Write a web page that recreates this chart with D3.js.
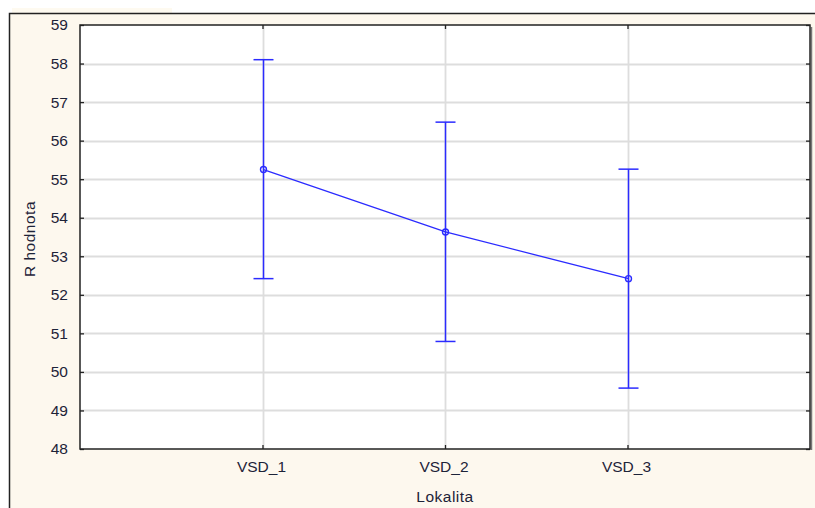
<!DOCTYPE html>
<html>
<head>
<meta charset="utf-8">
<script src="https://cdn.jsdelivr.net/npm/d3@7"></script>
<style>
  html, body { margin: 0; padding: 0; background: #ffffff; }
  svg { display: block; }
  text { font-family: Arial, "Liberation Sans", sans-serif; }
</style>
</head>
<body>
<svg id="chart" width="815" height="508"></svg>
<script>
// Mean R values per site with their interval bounds
const categories = ["VSD_1", "VSD_2", "VSD_3"];
const means = [55.25, 53.63, 52.42];
const upper = [58.10, 56.48, 55.26];
const lower = [52.42, 50.79, 49.58];
const yTicks = [48, 49, 50, 51, 52, 53, 54, 55, 56, 57, 58, 59];
const xTitle = "Lokalita";
const yTitle = "R hodnota";

const svg = d3.select("#chart");
const W = 815, H = 508;
const plot = { left: 80, top: 25, right: 810, bottom: 449 };
const fontSize = 15.5;
const textCol = "#1d2338";

// Outer panel
svg.append("rect").attr("x", 12).attr("y", 8).attr("width", 160).attr("height", 6).attr("fill", "#fefaf0");
svg.append("rect").attr("x", 9.5).attr("y", 13.5).attr("width", W).attr("height", H)
  .attr("fill", "#fdf8ee").attr("stroke", "#222").attr("stroke-width", 1.5);

const x = d3.scaleLinear().domain([0, categories.length + 1]).range([plot.left, plot.right]);
const y = d3.scaleLinear().domain([48, 59]).range([plot.bottom, plot.top]);
const cx = i => Math.round(x(i + 1)) + 0.5;

// Plot area
svg.append("rect").attr("x", plot.left).attr("y", plot.top)
  .attr("width", plot.right - plot.left).attr("height", plot.bottom - plot.top)
  .attr("fill", "#ffffff");

// Grid
const grid = svg.append("g");
grid.selectAll("line.h").data(yTicks.slice(1, -1)).join("line")
  .attr("x1", plot.left).attr("x2", plot.right)
  .attr("y1", d => Math.round(y(d)) + 0.5).attr("y2", d => Math.round(y(d)) + 0.5)
  .attr("stroke", "#dddddd").attr("stroke-width", 1.8);
grid.selectAll("line.v").data(categories).join("line")
  .attr("x1", (d, i) => cx(i)).attr("x2", (d, i) => cx(i))
  .attr("y1", plot.top).attr("y2", plot.bottom)
  .attr("stroke", "#dddddd").attr("stroke-width", 1.8);

// Axes
const yAxisL = d3.axisLeft(y).tickValues(yTicks).tickSize(-4).tickPadding(12).tickFormat(d3.format("d"));
const gyl = svg.append("g").attr("transform", `translate(${plot.left},0)`).call(yAxisL);
const yAxisR = d3.axisRight(y).tickValues(yTicks).tickSize(-4).tickFormat("");
const gyr = svg.append("g").attr("transform", `translate(${plot.right},0)`).call(yAxisR);
const xAxisB = d3.axisBottom(x).tickValues(categories.map((d, i) => i + 1))
  .tickFormat((d) => categories[d - 1]).tickSize(-4).tickPadding(12);
const gxb = svg.append("g").attr("transform", `translate(0,${plot.bottom})`).call(xAxisB);
const xAxisT = d3.axisTop(x).tickValues(categories.map((d, i) => i + 1)).tickSize(-4).tickFormat("");
const gxt = svg.append("g").attr("transform", `translate(0,${plot.top})`).call(xAxisT);

[gyl, gyr, gxb, gxt].forEach(g => {
  g.select(".domain").remove();
  g.selectAll(".tick line").attr("stroke", "#222").attr("stroke-width", 1.3);
  g.selectAll(".tick text").attr("fill", textCol).attr("font-size", fontSize)
    .attr("font-family", "Arial, 'Liberation Sans', sans-serif");
});
gxb.selectAll(".tick text").attr("dx", "-0.1em");

// Plot frame with a soft shadow on the right edge
svg.append("line").attr("x1", plot.right + 1.5).attr("x2", plot.right + 1.5)
  .attr("y1", plot.top + 2).attr("y2", plot.bottom + 1).attr("stroke", "#777").attr("stroke-width", 1.5);
svg.append("rect").attr("x", plot.left).attr("y", plot.top)
  .attr("width", plot.right - plot.left).attr("height", plot.bottom - plot.top)
  .attr("fill", "none").attr("stroke", "#222").attr("stroke-width", 1.5);

// Error bars
const blue = "#2b2bff";
const eb = svg.append("g").attr("stroke", blue).attr("stroke-width", 1.5).attr("fill", "none");
categories.forEach((c, i) => {
  eb.append("line").attr("x1", cx(i)).attr("x2", cx(i)).attr("y1", y(upper[i])).attr("y2", y(lower[i]));
  eb.append("line").attr("x1", cx(i) - 10).attr("x2", cx(i) + 10).attr("y1", y(upper[i])).attr("y2", y(upper[i]));
  eb.append("line").attr("x1", cx(i) - 10).attr("x2", cx(i) + 10).attr("y1", y(lower[i])).attr("y2", y(lower[i]));
});

// Mean line and markers
const line = d3.line().x((d, i) => cx(i)).y(d => y(d));
svg.append("path").datum(means).attr("d", line)
  .attr("fill", "none").attr("stroke", blue).attr("stroke-width", 1.3);
svg.selectAll("circle.m").data(means).join("circle")
  .attr("cx", (d, i) => cx(i)).attr("cy", d => y(d)).attr("r", 3)
  .attr("fill", "none").attr("stroke", blue).attr("stroke-width", 1.4);

// Axis titles
svg.append("text").attr("x", (plot.left + plot.right) / 2).attr("y", 502)
  .attr("text-anchor", "middle").attr("font-size", fontSize).attr("fill", textCol)
  .attr("letter-spacing", "0.5px")
  .text(xTitle);
svg.append("text").attr("transform", `translate(35,${(plot.top + plot.bottom) / 2 + 2}) rotate(-90)`)
  .attr("text-anchor", "middle").attr("font-size", fontSize).attr("fill", textCol)
  .attr("letter-spacing", "0.5px")
  .text(yTitle);
</script>
</body>
</html>
